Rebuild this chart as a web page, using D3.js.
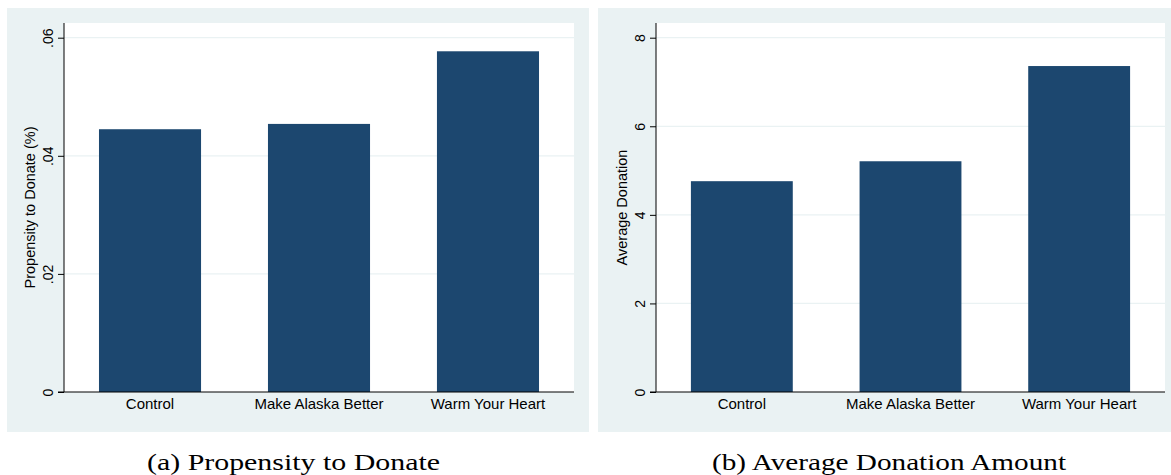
<!DOCTYPE html>
<html><head><meta charset="utf-8">
<script src="https://cdn.jsdelivr.net/npm/d3@7"></script>
<style>
body{margin:0;background:#fff;}
svg{display:block;}
text{font-family:"Liberation Sans",Arial,sans-serif;fill:#000;}
</style></head>
<body>
<svg id="c" width="1171" height="475"></svg>
<script>
const categories = ["Control", "Make Alaska Better", "Warm Your Heart"];
const propensityValues = [0.0445, 0.0454, 0.0577];
const donationValues = [4.76, 5.21, 7.36];
const propensityTicks = [0, 0.02, 0.04, 0.06];
const propensityTickLabels = ["0", ".02", ".04", ".06"];
const donationTicks = [0, 2, 4, 6, 8];
const donationTickLabels = ["0", "2", "4", "6", "8"];

const svg = d3.select("#c");
const bg = "#eaf2f3", barColor = "#1c476f", gridColor = "#eaf2f3";

function panel(opts){
  const g = svg.append("g");
  g.append("rect").attr("x", opts.px0).attr("y", 8).attr("width", opts.px1 - opts.px0).attr("height", 424).attr("fill", bg);
  const top = 23, bottom = 392;
  g.append("rect").attr("x", opts.ax).attr("y", top).attr("width", opts.r1 - opts.ax).attr("height", bottom - top).attr("fill", "#fff");
  const y = d3.scaleLinear().domain([0, opts.max]).range([bottom, 37.7]);
  const x = d3.scaleBand().domain(categories).range([opts.ax, opts.r1]).paddingInner(0.396).paddingOuter(0.207);
  g.selectAll(".grid").data(opts.ticks.filter(t => t > 0)).join("line")
    .attr("x1", opts.ax).attr("x2", opts.r1)
    .attr("y1", d => y(d)).attr("y2", d => y(d))
    .attr("stroke", gridColor).attr("stroke-width", 1.2);
  g.selectAll(".bar").data(opts.values).join("rect")
    .attr("x", (d, i) => x(categories[i])).attr("width", x.bandwidth())
    .attr("y", d => y(d)).attr("height", d => bottom - y(d))
    .attr("fill", barColor);
  const yAxis = d3.axisLeft(y).tickValues(opts.ticks).tickFormat((d, i) => opts.labels[i]).tickSize(6).tickSizeOuter(0);
  const ya = g.append("g").attr("transform", `translate(${opts.ax},0)`).call(yAxis);
  ya.select(".domain").attr("d", `M0,${top}V${bottom}`).attr("stroke", "#000");
  ya.selectAll(".tick line").attr("stroke", "#000");
  ya.selectAll(".tick text").attr("transform", "rotate(-90)").attr("x", 0).attr("y", -11)
    .attr("dy", "0").attr("text-anchor", "middle").style("font-size", "14px")
    .style("font-family", '"Liberation Sans",Arial,sans-serif');
  const xAxis = d3.axisBottom(x).tickSize(0).tickPadding(6);
  const xa = g.append("g").attr("transform", `translate(0,${bottom})`).call(xAxis);
  xa.select(".domain").attr("d", `M${opts.ax - 6},0H${opts.r1}`).attr("stroke", "#000");
  xa.selectAll(".tick text").attr("y", 0).attr("dy", "17px").style("font-size", "15px")
    .style("font-family", '"Liberation Sans",Arial,sans-serif');
  g.append("text").attr("transform", `translate(${opts.titleX},${(top + bottom) / 2}) rotate(-90)`)
    .attr("text-anchor", "middle").attr("dy", "0.35em").style("font-size", "14.5px").text(opts.title);
  g.append("text").attr("x", opts.capX).attr("y", 470).attr("text-anchor", "middle")
    .style("font-family", '"Liberation Serif","DejaVu Serif",serif').style("font-size", "24px")
    .attr("textLength", opts.capW).attr("lengthAdjust", "spacingAndGlyphs")
    .text(opts.caption);
}

panel({px0: 7, px1: 589, ax: 64, r1: 574, max: 0.06, ticks: propensityTicks, labels: propensityTickLabels,
  values: propensityValues, title: "Propensity to Donate (%)", titleX: 30, caption: "(a) Propensity to Donate", capX: 293.5, capW: 293});
panel({px0: 598, px1: 1171, ax: 656, r1: 1165, max: 8, ticks: donationTicks, labels: donationTickLabels,
  values: donationValues, title: "Average Donation", titleX: 622, caption: "(b) Average Donation Amount", capX: 889, capW: 354});
</script>
</body></html>
